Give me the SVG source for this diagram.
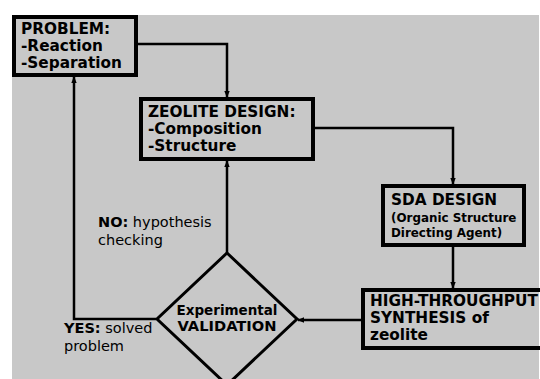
<svg xmlns="http://www.w3.org/2000/svg" width="540" height="379" viewBox="0 0 540 379">
<defs>
<marker id="arr" viewBox="0 0 10 10" refX="9" refY="5" markerWidth="7" markerHeight="7" orient="auto" markerUnits="userSpaceOnUse">
<path d="M0,1 L10,5 L0,9 z" fill="#000"/>
</marker>
<style>
.box{fill:none;stroke:#000;stroke-width:4}
.dia{fill:none;stroke:#000;stroke-width:3}
.con{fill:none;stroke:#000;stroke-width:2.5}
.b{font-family:"DejaVu Sans",Verdana,sans-serif;font-weight:bold;font-size:15.3px;fill:#000}
.s{font-family:"DejaVu Sans",Verdana,sans-serif;font-weight:bold;font-size:11.9px;fill:#000}
.v{font-family:"DejaVu Sans",Verdana,sans-serif;font-weight:bold;font-size:14px;fill:#000}
.t{font-family:"DejaVu Sans",Verdana,sans-serif;font-size:14.5px;fill:#000}
</style>
</defs>
<rect x="0" y="0" width="540" height="379" fill="#fff"/>
<rect x="12" y="15" width="527" height="364" fill="#c8c8c8"/>
<g id="connectors">
<path class="con" d="M138,44 H227 V97" marker-end="url(#arr)"/>
<path class="con" d="M315,128 H453 V184" marker-end="url(#arr)"/>
<path class="con" d="M453,247 V288" marker-end="url(#arr)"/>
<path class="con" d="M361,320 H298" marker-end="url(#arr)"/>
<path class="con" d="M227,253 V161" marker-end="url(#arr)"/>
<path class="con" d="M156,319 H74 V77" marker-end="url(#arr)"/>
</g>
<g id="problem">
<rect class="box" x="14" y="17" width="122" height="58"/>
<text class="b" x="21" y="34">PROBLEM:</text>
<text class="b" x="21" y="51">-Reaction</text>
<text class="b" x="21" y="68">-Separation</text>
</g>
<g id="zeolite">
<rect class="box" x="141" y="99" width="172" height="60"/>
<text class="b" x="148" y="117">ZEOLITE DESIGN:</text>
<text class="b" x="148" y="134">-Composition</text>
<text class="b" x="148" y="151">-Structure</text>
</g>
<g id="sda">
<rect class="box" x="383" y="186" width="141" height="59"/>
<text class="b" x="391" y="205">SDA DESIGN</text>
<text class="s" x="391" y="222">(Organic Structure</text>
<text class="s" x="391" y="237">Directing Agent)</text>
</g>
<g id="hts">
<rect class="box" x="363" y="290" width="190" height="58"/>
<text class="b" x="370" y="306">HIGH-THROUGHPUT</text>
<text class="b" x="370" y="323">SYNTHESIS of</text>
<text class="b" x="370" y="340">zeolite</text>
</g>
<g id="validation">
<path class="dia" d="M227,253 L297,319 L227,385 L157,319 Z"/>
<text class="v" x="227" y="315" text-anchor="middle" textLength="101" lengthAdjust="spacingAndGlyphs">Experimental</text>
<text class="v" x="227" y="331" text-anchor="middle" textLength="99" lengthAdjust="spacingAndGlyphs">VALIDATION</text>
</g>
<g id="labels">
<text class="t" x="98" y="227"><tspan font-weight="bold">NO:</tspan> hypothesis</text>
<text class="t" x="98" y="245">checking</text>
<text class="t" x="64" y="333"><tspan font-weight="bold">YES:</tspan> solved</text>
<text class="t" x="64" y="351">problem</text>
</g>
</svg>
